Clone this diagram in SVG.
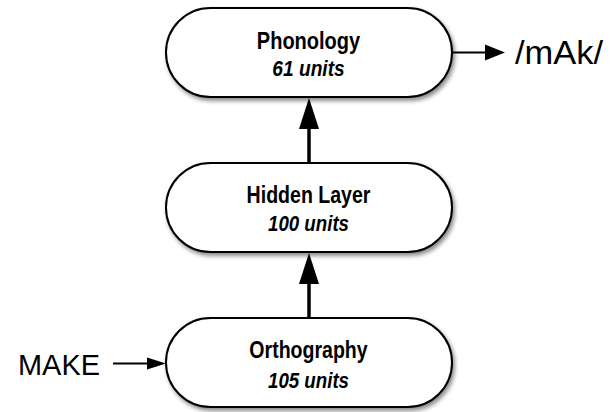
<svg xmlns="http://www.w3.org/2000/svg" width="612" height="412" viewBox="0 0 612 412">
<style>
.node{fill:#fff;stroke:#000;stroke-width:2;filter:url(#sh)}
.name{font-family:"Liberation Sans",Arial,sans-serif;font-weight:bold;font-size:23px;text-anchor:middle;fill:#000}
.units{font-family:"Liberation Sans",Arial,sans-serif;font-weight:bold;font-style:italic;font-size:22px;text-anchor:middle;fill:#000}
.lbl{font-family:"Liberation Sans",Arial,sans-serif;fill:#000}
.thick{stroke:#000;stroke-width:3.5;fill:none}
.thin{stroke:#000;stroke-width:1.8;fill:none}
</style>
<defs>
<filter id="sh" x="-10%" y="-20%" width="125%" height="150%">
<feDropShadow dx="2" dy="3" stdDeviation="2.2" flood-color="#000" flood-opacity="0.45"/>
</filter>
</defs>
<g id="connectors">
<line class="thick" x1="309" y1="162" x2="309" y2="125"/>
<polygon points="309,98 299,129 319,129" fill="#000"/>
<line class="thick" x1="309" y1="317" x2="309" y2="280"/>
<polygon points="309,253 299,284 319,284" fill="#000"/>
<line class="thin" x1="113" y1="363.5" x2="150" y2="363.5"/>
<polygon points="166,363.5 147,357.5 147,369.5" fill="#000"/>
<line class="thin" x1="452" y1="52.5" x2="488" y2="52.5"/>
<polygon points="505,52.5 485,44.5 485,60.5" fill="#000"/>
</g>
<g id="phonology">
<rect class="node" x="166" y="8" width="286" height="89" rx="44.5" ry="44.5"/>
<g transform="translate(308.5,0) scale(0.87,1)">
<text class="name" x="0" y="49">Phonology</text>
<text class="units" x="0" y="76">61 units</text>
</g>
</g>
<g id="hidden">
<rect class="node" x="166" y="163" width="286" height="89" rx="44.5" ry="44.5"/>
<g transform="translate(308.5,0) scale(0.85,1)">
<text class="name" x="0" y="203">Hidden Layer</text>
<text class="units" x="0" y="231">100 units</text>
</g>
</g>
<g id="orthography">
<rect class="node" x="166" y="318" width="286" height="89" rx="44.5" ry="44.5"/>
<g transform="translate(308.5,0) scale(0.85,1)">
<text class="name" x="0" y="358">Orthography</text>
<text class="units" x="0" y="388">105 units</text>
</g>
</g>
<g id="input">
<text class="lbl" x="18" y="375" font-size="30" textLength="82" lengthAdjust="spacingAndGlyphs">MAKE</text>
</g>
<g id="output">
<text class="lbl" x="515" y="64" font-size="34" textLength="88" lengthAdjust="spacingAndGlyphs">/mAk/</text>
</g>
</svg>
